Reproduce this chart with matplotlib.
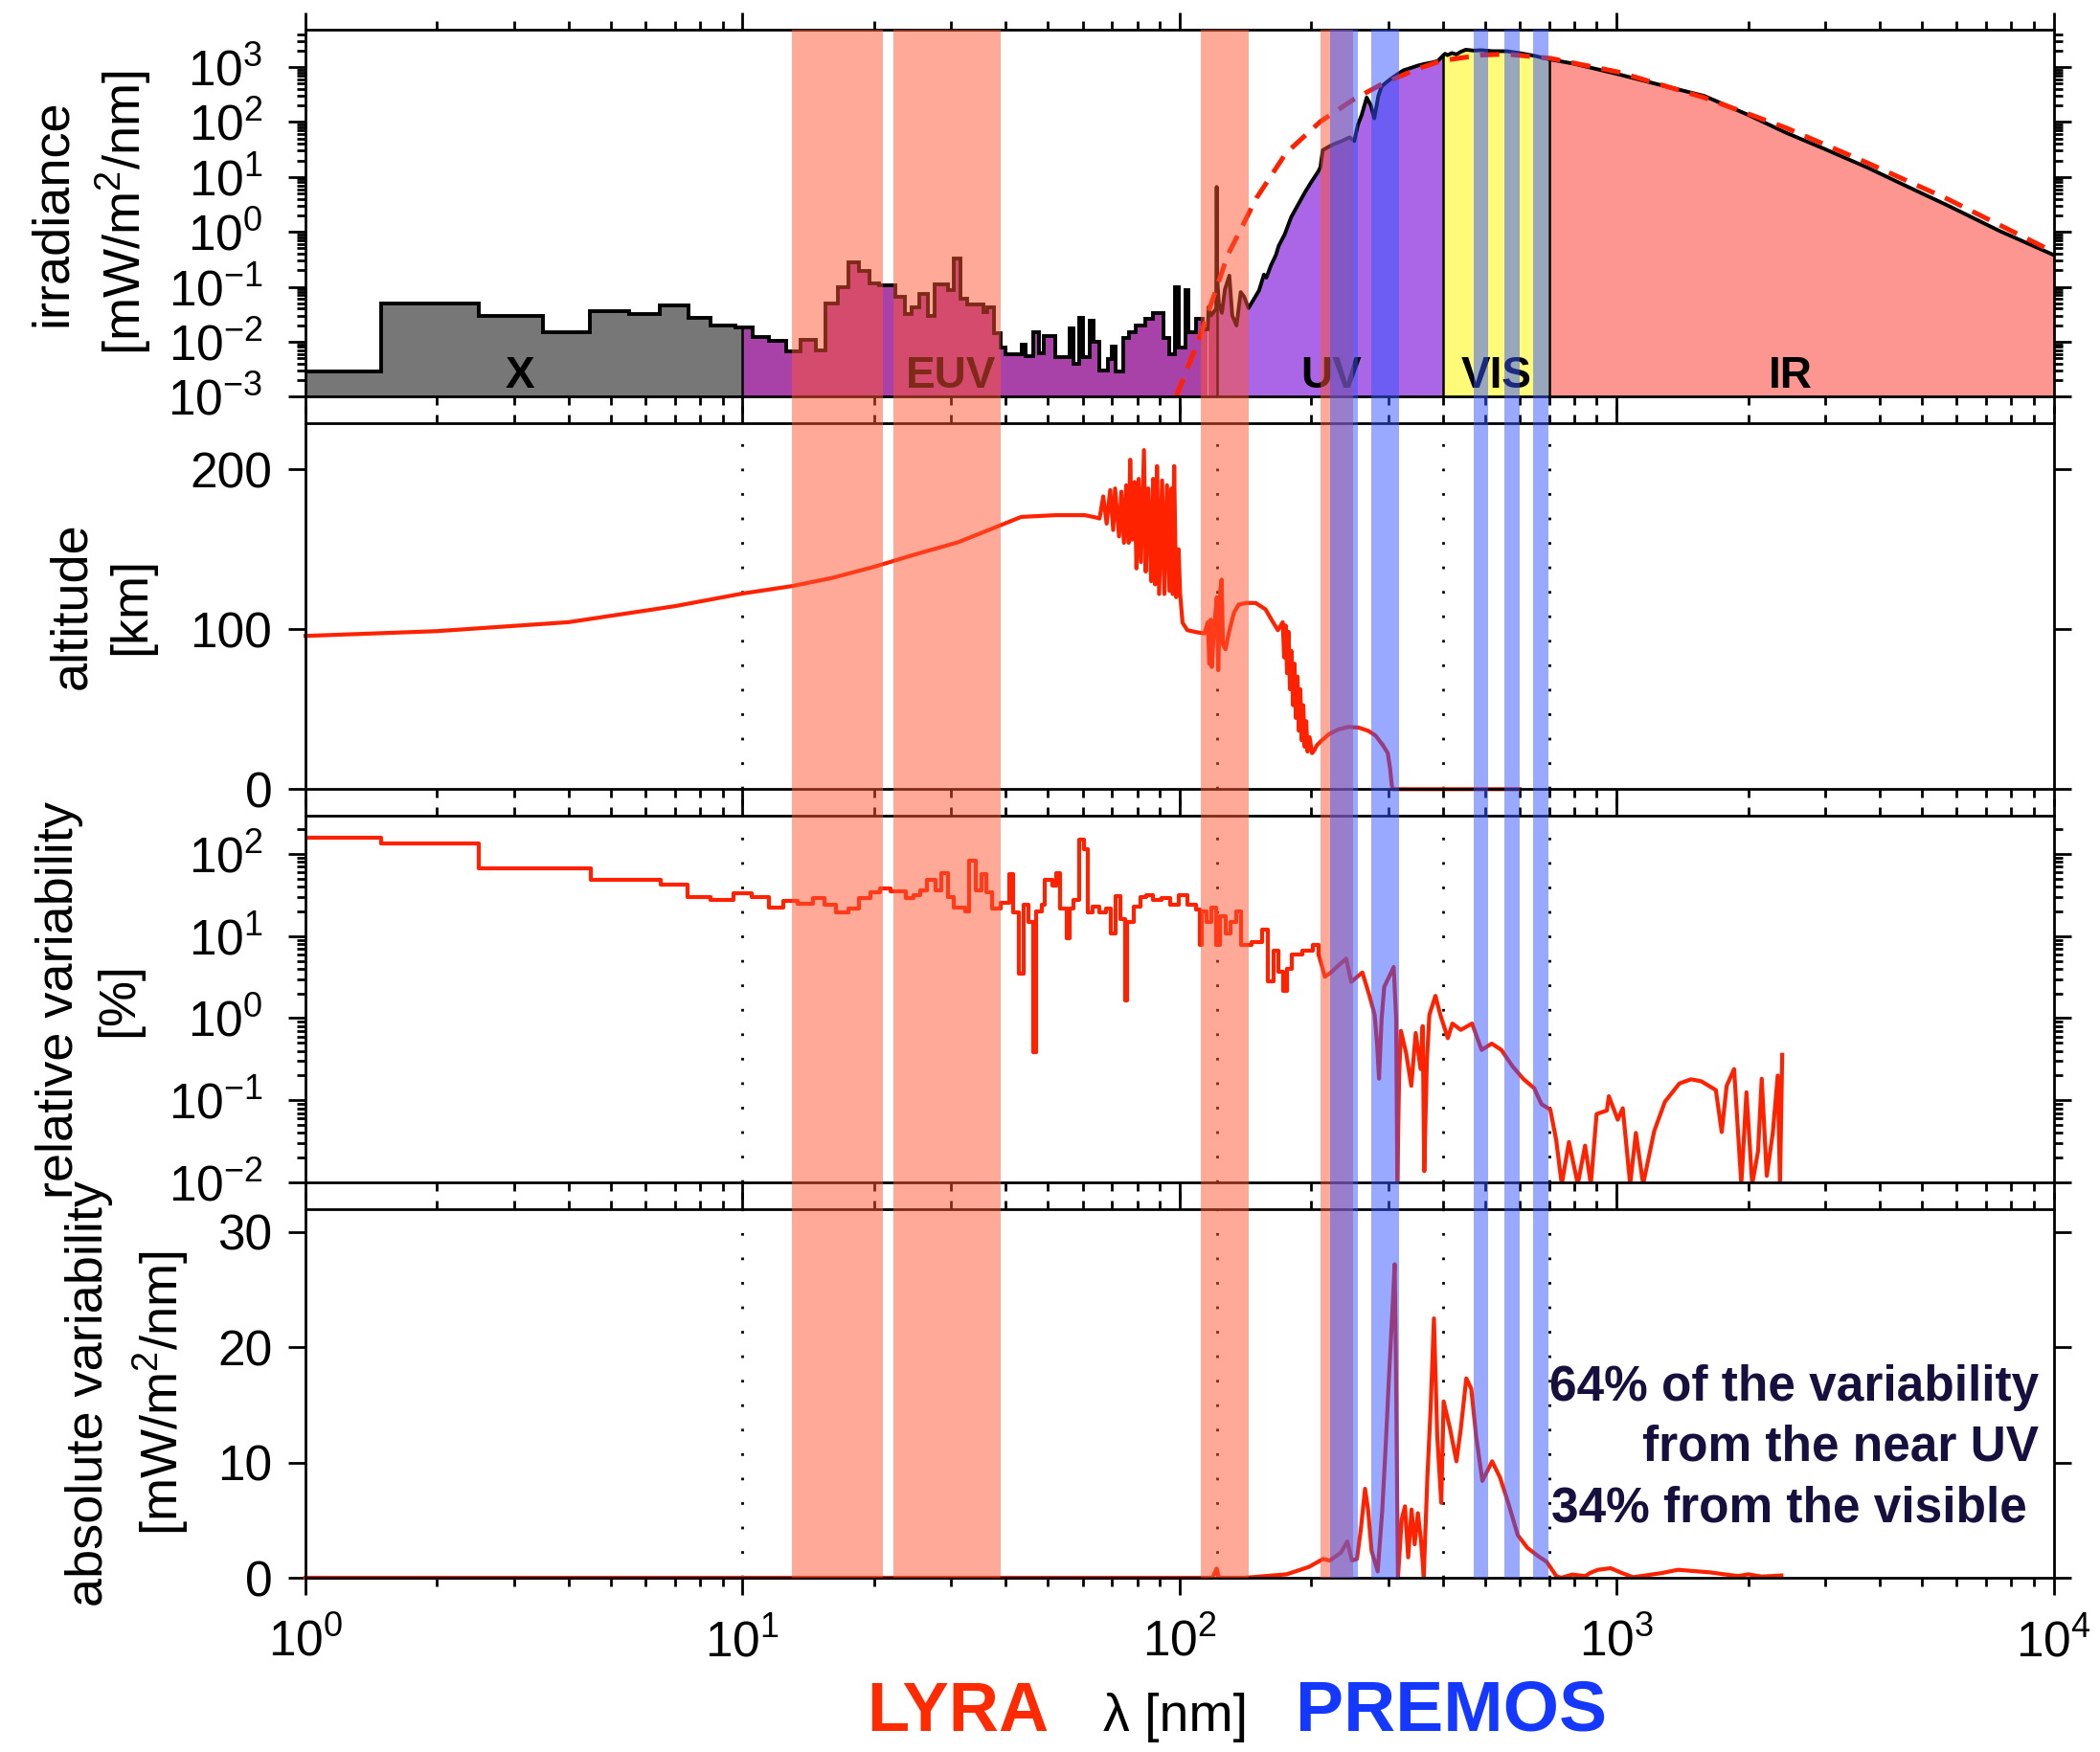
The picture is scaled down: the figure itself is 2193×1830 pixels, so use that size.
import numpy as np
import matplotlib
import matplotlib.pyplot as plt
from matplotlib.ticker import LogLocator, NullFormatter, FixedLocator
from matplotlib.transforms import blended_transform_factory
from matplotlib.patches import Rectangle

# ---------------- data ----------------
# panel 1: solar irradiance [mW/m2/nm]
x_edges = [1, 1.49, 2.49, 3.50, 4.48, 5.50, 6.46, 7.54, 8.47, 9.63, 10]
x_irr = [2.9e-3, 0.050, 0.0294, 0.0151, 0.036, 0.0315, 0.0457, 0.0275, 0.0197, 0.0183]

euv_edges = [10, 10.55, 11.5, 12.6, 13.6, 14.7, 15.5, 16.5, 17.5, 18.5, 19.5, 20.5, 22.4,
             23.5, 24.4, 25.4, 26.6, 27.5, 29.6, 30.4, 31.6, 32.7, 35.5, 36.3, 37.6, 38.9,
             40.0, 43.6, 44.5, 46.2, 47.6, 49.0, 51.9, 56.1, 57.2, 58.9, 60.0, 62.4, 63.6,
             65.4, 68.7, 70.0, 71.4, 74.2, 76.5, 79.5, 83.4, 86.7, 91.9, 94.6, 97.4, 99.4,
             103, 105, 109, 113, 116]
euv_irr = [0.0184, 0.0123, 0.0105, 0.00675, 0.0107, 0.00703, 0.050, 0.10, 0.278, 0.196,
           0.117, 0.105, 0.0656, 0.0323, 0.0427, 0.0731, 0.0294, 0.112, 0.0857, 0.326,
           0.0614, 0.047, 0.0346, 0.0427, 0.0141, 0.00775, 0.0059, 0.0088, 0.0055, 0.0151,
           0.0061, 0.0128, 0.00518, 0.0177, 0.00396, 0.0275, 0.0052, 0.024, 0.0101, 0.00303,
           0.00484, 0.0083, 0.00284, 0.0116, 0.0151, 0.0197, 0.0258, 0.0336, 0.0116, 0.0059,
           0.098, 0.00775, 0.0857, 0.0151, 0.0258, 0.017]

spec_lam = [116, 116.5, 118, 121.3, 121.6, 121.9, 123, 125, 127, 130, 132, 135, 138, 140.6,
            143.8, 148, 152, 156, 158, 162, 166, 168.6, 174, 180, 187, 194, 200, 207, 210,
            212.6, 220, 226.8, 235, 245, 251, 256, 261, 268, 274, 279, 285, 290, 300, 309,
            325, 340, 351, 365, 379, 390, 400, 405, 410, 420, 430, 440, 452, 470, 490, 520,
            561, 600, 650, 700, 800, 1008, 1250, 1586, 2000, 2440, 3000, 3750, 4700, 5750,
            7500, 10000]
spec_irr = [0.017, 0.043, 0.03, 0.04, 6.6, 0.157, 0.05, 0.0336, 0.09, 0.16, 0.03, 0.0197,
            0.08, 0.0656, 0.041, 0.06, 0.0857, 0.167, 0.147, 0.25, 0.373, 0.557, 0.9, 1.85,
            3.2, 5.4, 8.0, 12.1, 15, 30.7, 36, 40.3, 45, 52.6, 45, 90, 134, 279, 200, 117,
            300, 447, 560, 667, 871, 980, 1066, 1150, 1217, 1300, 1593, 1750, 1650, 1800,
            1700, 1900, 2075, 2000, 2030, 1950, 1946, 1800, 1600, 1390, 1150, 743, 480, 299,
            135, 64, 32, 14.8, 6.3, 2.97, 1.05, 0.38]

bb_lam = [98.2, 111.7, 128.8, 150, 175, 210, 251, 293, 351, 397, 490, 561, 706, 1008, 1586,
          2440, 3750, 5750, 10000]
bb_irr = [0.001, 0.0132, 0.373, 4.14, 26.9, 102, 262, 509, 931, 1303, 1660, 1720, 1445, 815,
          279, 78.5, 18, 3.88, 0.43]

region_bounds = [10, 121.6, 400, 700]
region_bound_irr = [0.0184, 6.6, 1593, 1390]
region_names = ['X', 'EUV', 'UV', 'VIS', 'IR']
region_name_lam = [3.1, 30, 222, 530, 2500]

# panel 2: altitude of unit optical depth [km]
alt_lam = [1, 2, 4, 7, 10, 13, 16, 20, 25, 31.1, 39.2, 43.4, 52, 60.7, 64, 65.6,
           66.9, 68.1, 69.4, 70.5, 71.2, 72.7, 73.6, 74.6, 75.5, 76.5, 77.1, 77.9, 78.9,
           79.7, 80.6, 81.6, 82.9, 83.7, 84.8, 86.1, 87.0, 87.9, 88.8, 89.8, 91.2, 92.3,
           93.6, 94.8, 95.8, 96.5, 97.2, 98.2, 99.5, 100.3, 101.6, 104.2, 110, 114, 116.1,
           117, 117.9, 118.5, 120.1, 121.7, 122.6, 123.9, 124.8, 125.7, 127.4, 129.8, 133.2,
           136.6, 141.9, 149.4, 157.3, 163.6, 167.9, 172.2, 173.5, 174.8, 176.2, 177.6,
           178.9, 180.4, 181.8, 183.2, 184.6, 186.1, 187.5, 188.9, 190.4, 191.9, 193.3,
           194.9, 196.3, 198.4, 201.0, 203.6, 206.2, 211.6, 220.0, 231.5, 243.8, 256.7,
           270.2, 280.8, 291.9, 299.5, 303.3, 305.8, 307.4, 600]
alt_km = [95.8, 98.8, 104.4, 114.4, 122.3, 127, 132, 139, 147, 154.3, 165.3, 170.2, 171.3,
          171.3, 170, 169.2,
          183, 166, 187, 162, 188, 158, 186, 154, 190, 154, 206, 156, 192,
          138, 194, 142, 212, 136, 188, 130, 194, 128, 202, 122, 193, 122,
          190, 124, 188, 122, 202, 120, 150, 122, 104, 99.4, 98, 97.4, 104.4,
          78.4, 106, 76.4, 102.6, 120, 74.4, 124, 131, 90.4, 87.4, 98.4, 110.4,
          115.4, 116.4, 116.4, 112.4, 104.4, 99.4, 104.4, 82.4, 102.4, 72.5, 98.4,
          62.5, 86.4, 52.5, 78.4, 44.5, 70.4, 36.5, 62.5, 30.5, 52.5, 26.5,
          42.5, 23.5, 32.5, 22.5, 24.5, 27.5, 30.5, 34.5, 37.5, 38.9, 38.5,
          36.5, 33.5, 27.5, 22.5, 12.6, 2.6, 0, 0]

# panel 3: relative variability [%]; binned part (steps) and resolved part
rel_step_lam = [1, 1.49, 2.49, 4.5, 5.53, 6.5, 7.48, 8.47, 9.55, 10.5, 11.5, 12.4, 13.4, 14.5,
                15.4, 16.4, 17.5, 18.5, 19.6, 20.6, 21.8, 23.6, 24.6, 25.5, 26.4, 27.6, 28.5,
                29.5, 30.5, 32.3, 33.0, 34.1, 35.3, 36.1, 37.3, 39.0, 40.8, 41.7, 42.9, 43.9,
                45.2, 46.2, 46.9, 48.3, 49.1, 51.1, 52.3, 53.2, 55.3, 56.0, 57.2, 58.9, 60.5,
                61.6, 63.2, 65.6, 67.9, 69.5, 71.4, 73.1, 75.2, 76.0, 78.7, 81.4, 84, 86.9,
                90.9, 95.1, 99.4, 104, 109, 111.2, 112.5, 115, 118, 121, 123.6, 127.8, 131,
                135, 138, 146, 154.5, 159, 164, 168, 172.8, 176, 180.7, 191, 202, 208]
rel_step_pct = [157, 135, 67, 49, 48, 41.8, 30, 27.4, 33.4, 30, 22.5, 26.7, 24.6, 29.2,
                24, 19.2, 21.7, 28.8, 34.3, 37.5, 35, 28.8, 31.5, 36, 47.8, 36, 58.6,
                30, 22.5, 20, 81.7, 36, 57, 34.3, 21.9, 25.6, 57, 19.2, 3.5, 24,
                14.7, 0.39, 20, 24, 48.7, 41.4, 58.6, 21.9, 9.4, 21.9, 27.4, 150, 115,
                19.2, 23, 19.2, 21.9, 10.7, 30.5, 16, 1.64, 14.7, 23, 30, 31.5, 27.4,
                28.8, 24, 31.5, 24, 21, 7.8, 20, 15, 22, 7.8, 17.5, 10.7, 15,
                20, 7.8, 8.4, 11.9, 2.8, 6.56, 3.66, 2.14, 4.0, 6.0, 6.6, 7.8, 6]
rel_lam = [208, 215, 222, 233, 240.6, 247, 262, 272, 279.5, 283, 286, 290, 294, 309, 313,
           315, 318, 321, 330, 339, 347, 356, 360, 363, 368, 373, 385, 395, 411, 421, 440,
           467, 491, 518, 545, 577, 611, 648, 673, 705, 727, 749, 778, 815, 847, 873, 900,
           950, 960, 1006, 1033, 1074, 1107, 1150, 1219, 1290, 1392, 1480, 1563, 1687,
           1740, 1786, 1857, 1929, 1982, 2043, 2107, 2148, 2206, 2277, 2337, 2365, 2393]
rel_pct = [6, 3.2, 3.6, 4.58, 5.3, 2.77, 3.6, 1.87, 1.1, 0.5, 0.183, 1.0, 2.4, 4.2, 1.0,
           0.0095, 0.2, 0.7, 0.374, 0.15, 0.66, 0.24, 0.8, 0.0137, 0.3, 1.1, 1.87, 1.1, 0.57,
           0.86, 0.72, 0.86, 0.41, 0.49, 0.41, 0.262, 0.183, 0.14, 0.0896, 0.077, 0.0334,
           0.0095, 0.031, 0.0095, 0.028, 0.0095, 0.068, 0.075, 0.112, 0.058, 0.08, 0.0095,
           0.04, 0.0095, 0.042, 0.096, 0.16, 0.18, 0.17, 0.133, 0.041, 0.15, 0.24, 0.0095,
           0.125, 0.0095, 0.024, 0.183, 0.012, 0.04, 0.2, 0.0095, 0.358]

# panel 4: absolute variability [mW/m2/nm]
abs_lam = [1, 119, 121.6, 123, 141, 175.8, 197.7, 213, 220.6, 234, 242, 248, 254.6, 260,
           265.7, 270, 275, 284, 291, 296.5, 301.5, 307.6, 310.6, 312.7, 316, 322.4, 328,
           333.5, 339.5, 345, 351, 357, 362, 369, 375.5, 382, 388.7, 397, 402, 416, 430,
           440, 453, 465, 477, 493, 519, 541, 565, 594, 625, 658, 692, 728, 747, 792, 848,
           869, 906, 970, 1028, 1091, 1270, 1381, 1634, 1778, 1900, 2000, 2150, 2383]
abs_var = [0, 0, 0.8, 0, 0, 0.3, 0.94, 1.63, 1.49, 2.18, 3.15, 1.49, 1.63, 4.26,
           7.72, 5.92, 2.35, 0.55, 5.9, 11.73, 17.5, 23.9, 27.2, 18.4, 0, 5.1, 6.2,
           1.77, 5.92, 2.9, 5.6, 3.15, 0.14, 8.7, 14.8, 22.5, 12.3, 6.5, 15.3, 12.9, 10.1,
           12.9, 17.3, 16.4, 12.3, 8.4, 10.1, 8.7, 6.5, 3.7, 2.6, 1.94, 1.38, 0.14, 0, 0.28, 0.14,
           0.41, 0.69, 0.83, 0.41, 0.05, 0.41, 0.69, 0.47, 0.28, 0.15, 0.3, 0.1, 0.2]

# instrument pass bands [nm]
lyra_bands = [(13.0, 21.0), (22.2, 39.0), (111.7, 143.8), (210, 249)]
premos_bands = [(221, 256), (275, 318), (471, 509), (555, 601), (645, 698)]
dotted_lam = [10, 121.6, 400, 700]

# ---------------- figure ----------------
plt.rcParams['font.family'] = ['Liberation Sans', 'DejaVu Sans']
plt.rcParams['mathtext.fontset'] = 'custom'
plt.rcParams['mathtext.rm'] = 'Liberation Sans'
plt.rcParams['mathtext.it'] = 'Liberation Sans:italic'
plt.rcParams['mathtext.bf'] = 'Liberation Sans:bold'
plt.rcParams['axes.linewidth'] = 2.0

W, H = 2193, 1830
fig = plt.figure(figsize=(W / 100, H / 100), dpi=100)

tops = [31, 441.7, 852.3, 1262.7]
bots = [414.3, 824.3, 1235, 1648]
x0, x1 = 319, 2144.6
axs = [fig.add_axes([x0 / W, 1 - b / H, (x1 - x0) / W, (b - t) / H]) for t, b in zip(tops, bots)]

TICK = 37
RED = '#ff2200'

for i, ax in enumerate(axs):
    ax.set_xscale('log')
    ax.set_xlim(1, 1e4)
    ax.xaxis.set_major_locator(LogLocator(base=10, numticks=10))
    ax.xaxis.set_minor_locator(LogLocator(base=10, subs=np.arange(2, 10), numticks=100))
    ax.xaxis.set_minor_formatter(NullFormatter())
    ax.tick_params(which='both', direction='out', top=True, right=True, width=2,
                   labelsize=TICK)
    ax.tick_params(which='major', length=13)
    ax.tick_params(which='minor', length=6.5)
    ax.tick_params(axis='x', labelbottom=(i == 3), pad=18)
    for s in ax.spines.values():
        s.set_zorder(4)

# ---- panel 1: irradiance
ax = axs[0]
ax.set_yscale('log')
ax.set_ylim(1e-3, 4.8e3)
ax.yaxis.set_major_locator(LogLocator(base=10, numticks=20))
ax.yaxis.set_minor_locator(LogLocator(base=10, subs=np.arange(2, 10), numticks=100))
ax.yaxis.set_minor_formatter(NullFormatter())
ax.tick_params(axis='y', pad=19)

lam = np.array(spec_lam)
irr = np.array(spec_irr)
ax.stairs(x_irr, x_edges, baseline=1e-3, fill=True, color='#777777', lw=0, zorder=1)
ax.stairs(euv_irr, euv_edges, baseline=1e-3, fill=True, color='#a942a8', lw=0, zorder=1)
fills = [(116, 121.6, '#a942a8'), (121.6, 400, '#aa66e6'), (400, 700, '#fffa78'),
         (700, 1e4, '#fd9590')]
for a, b, c in fills:
    m = (lam >= a) & (lam <= b)
    ax.fill_between(lam[m], 1e-3, irr[m], color=c, lw=0, zorder=1)
ax.stairs(x_irr, x_edges, baseline=None, color='k', lw=2.8, zorder=3)
ax.stairs(euv_irr, euv_edges, baseline=None, color='k', lw=2.8, zorder=3)
ax.plot(lam, irr, color='k', lw=2.8, zorder=3)
ax.vlines(region_bounds, 1e-3, region_bound_irr, color='k', lw=1.8, zorder=3)
ax.plot(bb_lam, bb_irr, color=RED, lw=3.6, dashes=(4, 2.4), zorder=3.5)
tr = blended_transform_factory(ax.transData, ax.transAxes)
for name, xl in zip(region_names, region_name_lam):
    ax.text(xl, 0.024, name, transform=tr, ha='center', va='baseline',
            fontsize=33, fontweight='bold', zorder=5)

# ---- panel 2: altitude
ax = axs[1]
ax.set_ylim(0, 229)
ax.yaxis.set_major_locator(FixedLocator([0, 100, 200]))
ax.tick_params(axis='y', pad=12)
ax.plot(alt_lam, alt_km, color=RED, lw=3, zorder=3, clip_on=False)

# ---- panel 3: relative variability
ax = axs[2]
ax.set_yscale('log')
ax.set_ylim(1e-2, 290)
ax.yaxis.set_major_locator(LogLocator(base=10, numticks=20))
ax.yaxis.set_minor_locator(LogLocator(base=10, subs=np.arange(2, 10), numticks=100))
ax.yaxis.set_minor_formatter(NullFormatter())
ax.tick_params(axis='y', pad=19)
ax.plot(rel_step_lam, rel_step_pct, color=RED, lw=3, drawstyle='steps-post', zorder=3)
ax.plot(rel_lam, rel_pct, color=RED, lw=3, zorder=3)

# ---- panel 4: absolute variability
ax = axs[3]
ax.set_ylim(0, 32)
ax.yaxis.set_major_locator(FixedLocator([0, 10, 20, 30]))
ax.tick_params(axis='y', pad=12)
ax.plot(abs_lam, abs_var, color=RED, lw=3, zorder=3, clip_on=False)

for ax in axs[1:]:
    for xl in dotted_lam:
        ax.axvline(xl, color='k', lw=2, ls=(0, (1, 8.2)), zorder=2)

# ---- instrument bands spanning all panels
btr = blended_transform_factory(axs[3].transData, fig.transFigure)
ylo, yhi = 1 - bots[3] / H, 1 - tops[0] / H
for a, b in lyra_bands:
    fig.add_artist(Rectangle((a, ylo), b - a, yhi - ylo, transform=btr,
                             color='#ff5533', alpha=0.5, lw=0, zorder=6))
for a, b in premos_bands:
    fig.add_artist(Rectangle((a, ylo), b - a, yhi - ylo, transform=btr,
                             color='#3355ff', alpha=0.5, lw=0, zorder=6))

# ---- y labels (two lines each)
ylab = [('irradiance', '[mW/m$^2$/nm]', 69, 147, 222),
        ('altitude', '[km]', 89, 151, 633),
        ('relative variability', '[%]', 76, 138, 1044),
        ('absolute variability', '[mW/m$^2$/nm]', 107, 186, 1455)]
for l1, l2, b1, b2, yc in ylab:
    for txt, xb in ((l1, b1), (l2, b2)):
        fig.text(xb / W, 1 - yc / H, txt, rotation=90, rotation_mode='anchor',
                 ha='center', va='baseline', fontsize=39)

# ---- bottom labels
fig.text(1000 / W, 1 - 1808 / H, 'LYRA', color='#ff2a00', fontsize=52,
         fontweight='bold', ha='center', va='baseline')
fig.text(1228 / W, 1 - 1808 / H, 'λ [nm]', fontsize=40, ha='center', va='baseline')
fig.text(1515 / W, 1 - 1808 / H, 'PREMOS', color='#1438ff', fontsize=54,
         fontweight='bold', ha='center', va='baseline')

# ---- annotation
navy = '#16103e'
fig.text(2129 / W, 1 - 1463 / H, '64% of the variability', color=navy, fontsize=37,
         fontweight='bold', ha='right', va='baseline', zorder=7)
fig.text(2129 / W, 1 - 1526 / H, 'from the near UV', color=navy, fontsize=37,
         fontweight='bold', ha='right', va='baseline', zorder=7)
fig.text(1620 / W, 1 - 1590 / H, '34% from the visible', color=navy, fontsize=37,
         fontweight='bold', ha='left', va='baseline', zorder=7)

fig.savefig('out.png', dpi=100)
